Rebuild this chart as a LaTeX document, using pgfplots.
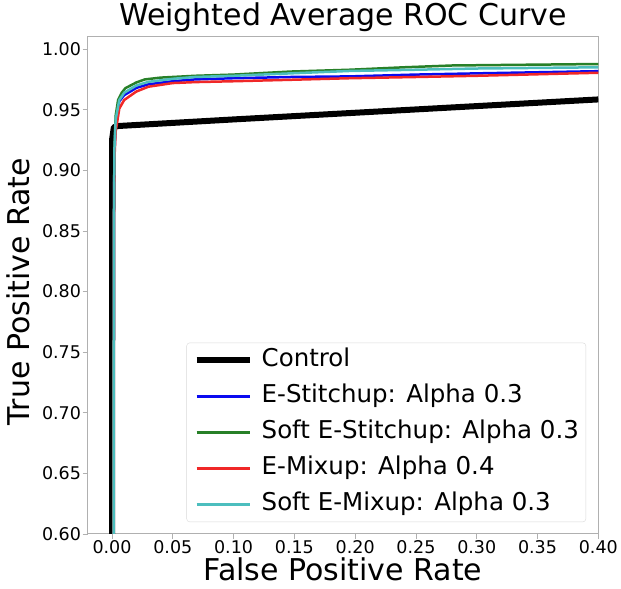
\documentclass[border=0pt]{standalone}
\usepackage{pgfplots}
\pgfplotsset{compat=1.18}
\usepackage{fontspec}
\setmainfont{DejaVu Sans}
\definecolor{cgreen}{RGB}{40,128,40}
\definecolor{cblue}{RGB}{10,10,240}
\definecolor{cred}{RGB}{240,40,40}
\definecolor{ccyan}{RGB}{76,190,190}
\definecolor{spine}{RGB}{176,176,176}
\begin{document}
\begin{tikzpicture}
\begin{axis}[
  at={(0pt,0pt)}, anchor=south west,
  scale only axis, width=510.6pt, height=497pt,
  xmin=-0.02, xmax=0.40, ymin=0.60, ymax=1.01,
  xtick={0,0.05,...,0.401}, ytick={0.60,0.65,...,1.001},
  /pgf/number format/.cd, fixed, fixed zerofill, precision=2, assume math mode=true,
  /pgfplots/.cd,
  tick align=outside, major tick length=5pt,
  tick style={draw=spine, line width=0.8pt},
  axis line style={draw=spine, line width=1pt},
  every tick label/.append style={font=\fontsize{17.5}{20}\selectfont},
  yticklabel style={inner sep=1.5pt},
  xticklabel style={inner sep=1pt},
  xtick pos=bottom, ytick pos=left,
  title={Weighted Average ROC Curve},
  title style={at={(axis description cs:0.5,1.012)}, anchor=base, font=\fontsize{30}{34}\selectfont, inner sep=0pt},
  xlabel={False Positive Rate},
  xlabel style={at={(axis description cs:0.5,-0.0936)}, anchor=base, font=\fontsize{30}{34}\selectfont, inner sep=0pt},
  ylabel={True Positive Rate},
  ylabel style={at={(axis description cs:-0.113,0.488)}, anchor=base, rotate=0, font=\fontsize{30}{34}\selectfont, inner sep=0pt},
  legend cell align=left,
  legend image code/.code={\draw[#1] (0pt,0pt) -- (53pt,0pt);},
  legend style={at={(axis description cs:0.976,0.024)}, anchor=south east,
    draw=black!15, rounded corners=3pt, fill=white, fill opacity=0.8, text opacity=1,
    font=\fontsize{24.5}{28}\selectfont, inner xsep=7pt, inner ysep=6pt,
    row sep=13pt, column sep=9pt,
    nodes={inner sep=0pt, text height=18pt, text depth=5pt}},
  clip=true,
]
\addplot[black, line width=6pt, line join=round] coordinates {
(0.0,0.60) (0.0,0.925) (0.0015,0.9355) (0.004,0.9365) (0.1,0.9420) (0.2,0.9475) (0.3,0.9530) (0.4,0.9585)
};
\addlegendentry{Control}
\addplot[cblue, line width=2.5pt, line join=round] coordinates {
(0.0013,0.60) (0.0015,0.85) (0.002,0.915) (0.003,0.940) (0.006,0.957) (0.01,0.962) (0.02,0.968) (0.03,0.971) (0.05,0.9735) (0.068,0.975) (0.1,0.976) (0.147,0.977) (0.196,0.9775) (0.25,0.979) (0.3,0.980) (0.4,0.9818)
};
\addlegendentry{E-Stitchup: Alpha 0.3}
\addplot[cgreen, line width=2.5pt, line join=round] coordinates {
(0.0013,0.60) (0.0015,0.85) (0.002,0.92) (0.003,0.945) (0.005,0.958) (0.008,0.964) (0.011,0.9678) (0.02,0.9725) (0.027,0.975) (0.04,0.9765) (0.0685,0.978) (0.1,0.979) (0.147,0.9815) (0.196,0.983) (0.24,0.985) (0.28,0.9865) (0.4,0.9877)
};
\addlegendentry{Soft E-Stitchup: Alpha 0.3}
\addplot[cred, line width=2.5pt, line join=round] coordinates {
(0.0013,0.60) (0.0015,0.85) (0.002,0.91) (0.003,0.932) (0.006,0.951) (0.01,0.958) (0.02,0.965) (0.03,0.969) (0.05,0.972) (0.0685,0.9728) (0.1,0.9735) (0.147,0.9747) (0.196,0.976) (0.25,0.977) (0.3,0.978) (0.4,0.9805)
};
\addlegendentry{E-Mixup: Alpha 0.4}
\addplot[ccyan, line width=2.5pt, line join=round] coordinates {
(0.0013,0.60) (0.0015,0.85) (0.002,0.918) (0.003,0.942) (0.006,0.958) (0.01,0.964) (0.02,0.970) (0.03,0.973) (0.05,0.9755) (0.068,0.977) (0.1,0.978) (0.147,0.980) (0.196,0.982) (0.25,0.983) (0.3,0.984) (0.4,0.985)
};
\addlegendentry{Soft E-Mixup: Alpha 0.3}
\end{axis}
\pgfresetboundingbox
\path (-87.7pt,-54.5pt) rectangle (533.3pt,534pt);
\end{tikzpicture}
\end{document}
